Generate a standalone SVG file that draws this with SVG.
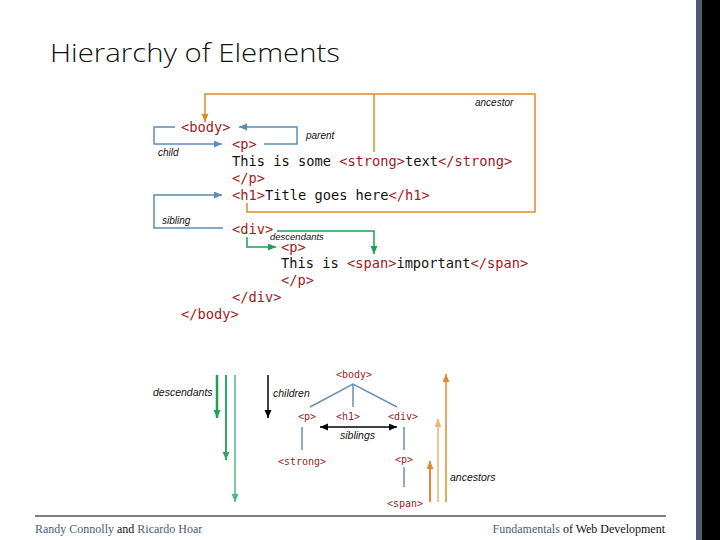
<svg xmlns="http://www.w3.org/2000/svg" width="720" height="540" viewBox="0 0 720 540">
<style>
.title{font-family:"Open Sans","Liberation Sans",sans-serif;font-weight:300;font-size:26px;fill:#111}
.code{font-family:"DejaVu Sans Mono","Liberation Mono",monospace;font-size:13.7px;fill:#111}
.tag{fill:#9c1c1c}
.tree{font-family:"DejaVu Sans Mono","Liberation Mono",monospace;font-size:10px;fill:#9c1c1c}
.lbl{font-family:"Liberation Sans",Arial,sans-serif;font-style:italic;font-size:10px;fill:#111}
.lbl2{font-family:"Liberation Sans",Arial,sans-serif;font-style:italic;font-size:10.5px;fill:#111}
.foot{font-family:"Liberation Serif","Times New Roman",serif;font-size:12px;fill:#111}
.fb{fill:#4a5d78}
.blue{fill:none;stroke:#5b8cba;stroke-width:1.5}
.orange{fill:none;stroke:#e0892e;stroke-width:1.5}
.green{fill:none;stroke:#1f9e5a;stroke-width:1.5}
.tline{fill:none;stroke:#6a8fb5;stroke-width:1.5}
</style>
<defs>
<marker id="ab" markerUnits="userSpaceOnUse" markerWidth="9" markerHeight="8" refX="8" refY="3.5" orient="auto"><path d="M0,0 L8,3.5 L0,7 z" fill="#5b8cba"/></marker>
<marker id="ao" markerUnits="userSpaceOnUse" markerWidth="9" markerHeight="8" refX="8" refY="3.5" orient="auto"><path d="M0,0 L8,3.5 L0,7 z" fill="#e0892e"/></marker>
<marker id="ao2" markerUnits="userSpaceOnUse" markerWidth="9" markerHeight="8" refX="8" refY="3.5" orient="auto"><path d="M0,0 L8,3.5 L0,7 z" fill="#f0b07a"/></marker>
<marker id="ag" markerUnits="userSpaceOnUse" markerWidth="9" markerHeight="8" refX="8" refY="3.5" orient="auto"><path d="M0,0 L8,3.5 L0,7 z" fill="#1f9e5a"/></marker>
<marker id="ag2" markerUnits="userSpaceOnUse" markerWidth="9" markerHeight="8" refX="8" refY="3.5" orient="auto"><path d="M0,0 L8,3.5 L0,7 z" fill="#2fa866"/></marker>
<marker id="ag3" markerUnits="userSpaceOnUse" markerWidth="9" markerHeight="8" refX="8" refY="3.5" orient="auto"><path d="M0,0 L8,3.5 L0,7 z" fill="#4cb882"/></marker>
<marker id="ak" markerUnits="userSpaceOnUse" markerWidth="9" markerHeight="8" refX="8" refY="3.5" orient="auto-start-reverse"><path d="M0,0 L8,3.5 L0,7 z" fill="#000"/></marker>
</defs>

<rect x="0" y="0" width="720" height="540" fill="#fff"/>
<rect x="696" y="0" width="6" height="540" fill="#4e5b6e"/>
<rect x="702" y="0" width="18" height="540" fill="#000"/>

<text id="title" class="title" x="50" y="62" textLength="290" lengthAdjust="spacingAndGlyphs">Hierarchy of Elements</text>

<g id="code" class="code">
<text x="181" y="132"><tspan class="tag">&lt;body&gt;</tspan></text>
<text x="232" y="149"><tspan class="tag">&lt;p&gt;</tspan></text>
<text x="232" y="166">This is some <tspan class="tag">&lt;strong&gt;</tspan>text<tspan class="tag">&lt;/strong&gt;</tspan></text>
<text x="232" y="183"><tspan class="tag">&lt;/p&gt;</tspan></text>
<text x="232" y="200"><tspan class="tag">&lt;h1&gt;</tspan>Title goes here<tspan class="tag">&lt;/h1&gt;</tspan></text>
<text x="232" y="234"><tspan class="tag">&lt;div&gt;</tspan></text>
<text x="281" y="252"><tspan class="tag">&lt;p&gt;</tspan></text>
<text x="281" y="268">This is <tspan class="tag">&lt;span&gt;</tspan>important<tspan class="tag">&lt;/span&gt;</tspan></text>
<text x="281" y="285"><tspan class="tag">&lt;/p&gt;</tspan></text>
<text x="232" y="302"><tspan class="tag">&lt;/div&gt;</tspan></text>
<text x="181" y="319"><tspan class="tag">&lt;/body&gt;</tspan></text>
</g>

<g id="code-connectors">
<path class="orange" d="M247,203 V212 H535 V94 H205 V122" marker-end="url(#ao)"/>
<path class="orange" d="M374,94 V152"/>
<path class="blue" d="M175,127 H154 V144 H222" marker-end="url(#ab)"/>
<path class="blue" d="M264,144 H297 V127 H239" marker-end="url(#ab)"/>
<path class="blue" d="M223,228 H154 V195 H222" marker-end="url(#ab)"/>
<path class="green" d="M247,237 V247 H276" marker-end="url(#ag)"/>
<path class="green" d="M277,231 H374 V254" marker-end="url(#ag)"/>
</g>

<g id="code-labels">
<text class="lbl" x="475" y="106">ancestor</text>
<text class="lbl" x="306" y="139">parent</text>
<text class="lbl" x="158" y="156">child</text>
<text class="lbl" x="162" y="224">sibling</text>
<text class="lbl" x="270" y="240" style="font-size:9.5px">descendants</text>
</g>

<g id="tree-nodes" class="tree">
<g id="n-body"><text x="354" y="378" text-anchor="middle">&lt;body&gt;</text></g>
<g id="n-p"><text x="307" y="420" text-anchor="middle">&lt;p&gt;</text></g>
<g id="n-h1"><text x="348" y="420" text-anchor="middle">&lt;h1&gt;</text></g>
<g id="n-div"><text x="403" y="420" text-anchor="middle">&lt;div&gt;</text></g>
<g id="n-strong"><text x="302" y="465" text-anchor="middle">&lt;strong&gt;</text></g>
<g id="n-p2"><text x="404" y="463" text-anchor="middle">&lt;p&gt;</text></g>
<g id="n-span"><text x="405" y="507" text-anchor="middle">&lt;span&gt;</text></g>
</g>

<g id="tree-connectors">
<path class="tline" d="M310,407 L353,384 L397,407 M353,384 V407"/>
<path class="tline" d="M302,427 V450 M404,427 V450 M404,467 V487"/>
<path d="M320,427 H397" fill="none" stroke="#000" stroke-width="1.5" marker-start="url(#ak)" marker-end="url(#ak)"/>
<path d="M217,375 V418" fill="none" stroke="#1f9e5a" stroke-width="2.5" marker-end="url(#ag)"/>
<path d="M226,375 V460" fill="none" stroke="#2fa866" stroke-width="2" marker-end="url(#ag2)"/>
<path d="M235,375 V502" fill="none" stroke="#4cb882" stroke-width="1.5" marker-end="url(#ag3)"/>
<path d="M268,375 V418" fill="none" stroke="#000" stroke-width="1.5" marker-end="url(#ak)"/>
<path d="M430,502 V461" fill="none" stroke="#e0892e" stroke-width="2" marker-end="url(#ao)"/>
<path d="M438,502 V419" fill="none" stroke="#f0b07a" stroke-width="1.5" marker-end="url(#ao2)"/>
<path d="M446,502 V374" fill="none" stroke="#e0892e" stroke-width="1.5" marker-end="url(#ao)"/>
</g>

<g id="tree-labels">
<text class="lbl2" x="153" y="396">descendants</text>
<text class="lbl2" x="273" y="397">children</text>
<text class="lbl2" x="340" y="439">siblings</text>
<text class="lbl2" x="450" y="481">ancestors</text>
</g>

<g id="footer">
<line x1="35" y1="516" x2="666" y2="516" stroke="#000" stroke-width="1"/>
<text class="foot" x="35" y="533"><tspan class="fb">Randy Connolly</tspan> and <tspan class="fb">Ricardo Hoar</tspan></text>
<text class="foot" x="665" y="533" text-anchor="end"><tspan class="fb">Fundamentals</tspan> of Web Development</text>
</g>
</svg>
